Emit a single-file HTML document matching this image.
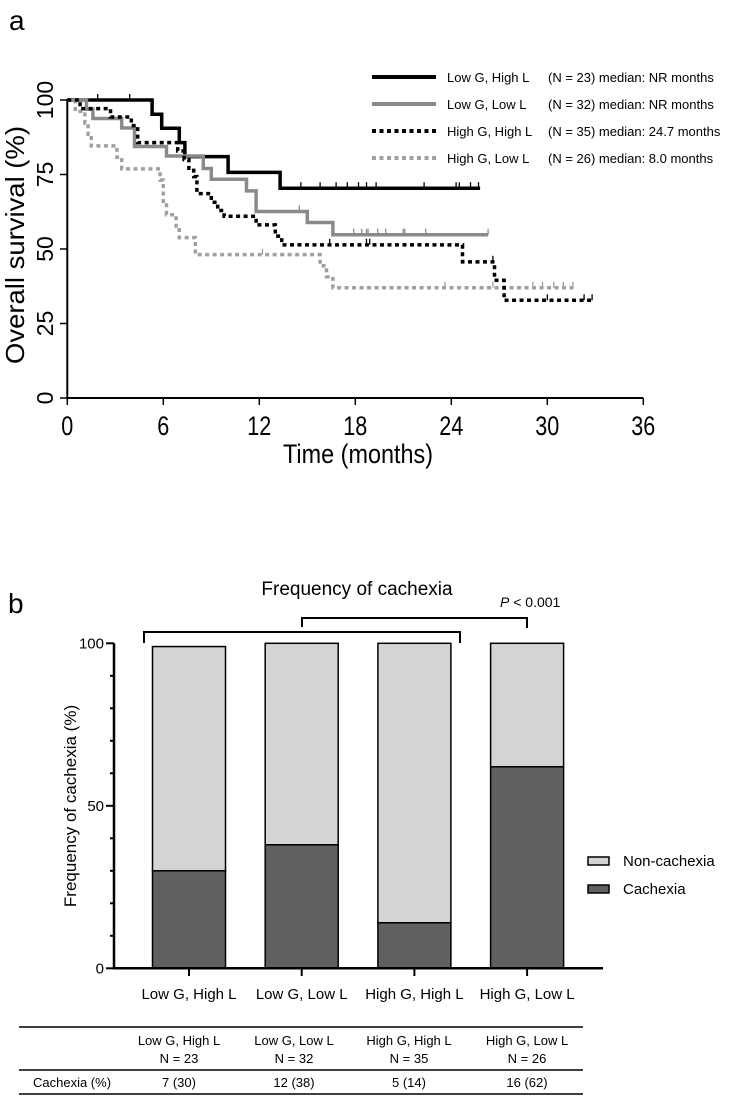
<!DOCTYPE html>
<html><head><meta charset="utf-8"><style>
body{margin:0;background:#fff;}
svg{display:block;font-family:"Liberation Sans",Arial,sans-serif;}
</style></head><body>
<svg id="fig" width="749" height="1096" viewBox="0 0 749 1096">
<text x="9" y="30" font-size="28">a</text>
<g id="km"></g>
<g id="legendA"></g>
<text x="0" y="0" font-size="28" transform="translate(8,613)">b</text>
<text x="357" y="595" font-size="19" text-anchor="middle">Frequency of cachexia</text>
<g id="bars"></g>
<g id="table"></g>
</svg>
<script>
const NS="http://www.w3.org/2000/svg";
// ---- KM data ----
const kmTicks=[0,6,12,18,24,30,36];
const kmYTicks=[0,25,50,75,100];
const bkT=[5.3,5.9,7.0,7.35,10.05,13.3];
const bkS=[95.2,90.5,85.7,81,75.7,70.4];
const bkEnd=25.8;
const bkCens=[1.9,3.9,14.6,15.8,16.8,17.5,18.2,18.7,19.3,22.3,24.3,24.5,25.2,25.7];
const gyT=[1.2,1.6,3.4,4.2,6.2,8.5,9.0,11.2,11.8,15.0,16.6];
const gyS=[96.9,93.8,90.6,84.4,81.2,77,73.4,69.5,62.6,58.9,54.8];
const gyEnd=26.3;
const gyCens=[14.5,15.0,17.9,18.4,18.7,18.8,19.4,19.9,21.0,21.1,22.4,26.3];
const bdT=[0.8,2.7,4.0,4.4,6.9,7.3,7.6,7.9,8.1,9.0,9.4,9.8,11.8,13.0,13.4,24.7,26.7,27.3];
const bdS=[97.1,94.3,91.4,85.7,82.9,80,77.1,74.3,68.6,65.7,62.9,61.0,58.1,54.3,51.4,45.7,39.5,32.8];
const bdEnd=32.8;
const bdCens=[16.4,18.7,18.9,26.6,30.0,32.3,32.8];
const gdT=[0.5,1.1,1.3,1.5,3.1,3.4,5.8,6.0,6.2,6.8,7.0,8.0,15.8,16.2,16.6];
const gdS=[96.2,92.3,88.5,84.6,80.8,76.9,73.1,65.4,61.5,57.7,53.8,48.1,44.4,40.7,37.0];
const gdEnd=31.7;
const gdCens=[12.2,23.6,26.6,29.1,29.7,30.4,31.0,31.6];
const legendLabels=["Low  G, High L","Low  G, Low L","High G, High L","High G, Low L"];
const legendStats=["(N = 23) median: NR months","(N = 32) median: NR months","(N = 35) median: 24.7 months","(N = 26) median: 8.0 months"];
// ---- bar data ----
const barCats=["Low G, High L","Low G, Low L","High G, High L","High G, Low L"];
const cachexia=[30,38,14,62];
const totals=[99,100,100,100];
const barYTicks=[0,50,100];
// ---- table data ----
const tblHead=["Low G, High L","Low G, Low L","High G, High L","High G, Low L"];
const tblN=["N = 23","N = 32","N = 35","N = 26"];
const tblVals=["7 (30)","12 (38)","5 (14)","16 (62)"];

function mk(tag,attrs,parent){const e=document.createElementNS(NS,tag);for(const k in attrs)e.setAttribute(k,attrs[k]);parent.appendChild(e);return e;}
const kx=t=>67.3+t*16.0;
const ky=s=>398-s*2.98;
const km=document.getElementById('km');
let a=mk('line',{x1:67.3,y1:398,x2:kx(36),y2:398,stroke:'#000','stroke-width':2},km);

a=mk('line',{x1:67.3,y1:ky(100)-1,x2:67.3,y2:398,stroke:'#000','stroke-width':2},km);

kmTicks.forEach(t=>{
  const l=mk('line',{x1:kx(t),y1:398,x2:kx(t),y2:405,stroke:'#000','stroke-width':1.5},km);
  
  const tx=mk('text',{x:kx(t),y:435,'font-size':27,'text-anchor':'middle',transform:`translate(${kx(t)},0) scale(0.8,1) translate(${-kx(t)},0)`},km);
  tx.textContent=t;
});
kmYTicks.forEach(v=>{
  const l=mk('line',{x1:60,y1:ky(v),x2:67.3,y2:ky(v),stroke:'#000','stroke-width':1.5},km);
  
  const tx=mk('text',{x:0,y:0,'font-size':23,'text-anchor':'middle',transform:`translate(53,${ky(v)}) rotate(-90)`},km);
  tx.textContent=v;
});
let tt=mk('text',{x:358,y:463,'font-size':27,'text-anchor':'middle',textLength:150,lengthAdjust:'spacingAndGlyphs'},km);
tt.textContent='Time (months)';
tt=mk('text',{x:0,y:0,'font-size':26,'text-anchor':'middle',transform:'translate(24,245) rotate(-90)',textLength:238,lengthAdjust:'spacingAndGlyphs'},km);
tt.textContent='Overall survival (%)';

function stepPath(T,S,end){let d=`M${kx(0)},${ky(100)}`;for(let i=0;i<T.length;i++){d+=`H${kx(T[i])}V${ky(S[i])}`;}d+=`H${kx(end)}`;return d;}
function survAt(T,S,t){let s=100;for(let i=0;i<T.length;i++){if(T[i]<=t)s=S[i];}return s;}
const series=[
 {T:bkT,S:bkS,end:bkEnd,c:bkCens,col:'#000',dash:null,name:'curve-low-g-high-l'},
 {T:gyT,S:gyS,end:gyEnd,c:gyCens,col:'#8a8a8a',dash:null,name:'curve-low-g-low-l'},
 {T:gdT,S:gdS,end:gdEnd,c:gdCens,col:'#a0a0a0',dash:'4 3.5',name:'curve-high-g-low-l'},
 {T:bdT,S:bdS,end:bdEnd,c:bdCens,col:'#000',dash:'4 3.5',name:'curve-high-g-high-l'}
];
series.forEach(sr=>{
  const at={d:stepPath(sr.T,sr.S,sr.end),fill:'none',stroke:sr.col,'stroke-width':3.5};
  if(sr.dash)at['stroke-dasharray']=sr.dash;
  const p=mk('path',at,km);
  
  sr.c.forEach(t=>{const y=ky(survAt(sr.T,sr.S,t));
    const l=mk('line',{x1:kx(t),y1:y-6,x2:kx(t),y2:y,stroke:sr.col,'stroke-width':1.3},km);
    });
});
const lg=document.getElementById('legendA');
const lgStyle=[['#000',null],['#8a8a8a',null],['#000','4 3.5'],['#a0a0a0','4 3.5']];
legendLabels.forEach((lab,i)=>{
  const y=77+i*27;
  const at={x1:372,y1:y,x2:436,y2:y,stroke:lgStyle[i][0],'stroke-width':4};
  if(lgStyle[i][1])at['stroke-dasharray']=lgStyle[i][1];
  const l=mk('line',at,lg);
  const t1=mk('text',{x:447,y:y+5,'font-size':13},lg);t1.textContent=lab;
  
  const t2=mk('text',{x:548,y:y+5,'font-size':13},lg);t2.textContent=legendStats[i];
  
});
// ---- bars ----
const bg=document.getElementById('bars');
const by=v=>968.3-v*3.25;
const bx=i=>189+i*112.7;
const bw=73;
barCats.forEach((c,i)=>{
  let r=mk('rect',{x:bx(i)-bw/2,y:by(totals[i]),width:bw,height:by(cachexia[i])-by(totals[i]),fill:'#d4d4d4',stroke:'#000','stroke-width':1.5},bg);
  
  r=mk('rect',{x:bx(i)-bw/2,y:by(cachexia[i]),width:bw,height:by(0)-by(cachexia[i]),fill:'#606060',stroke:'#000','stroke-width':1.5},bg);
  
  const tk=mk('line',{x1:bx(i),y1:968,x2:bx(i),y2:976,stroke:'#000','stroke-width':2},bg);
  
  const t=mk('text',{x:bx(i),y:999,'font-size':15,'text-anchor':'middle'},bg);t.textContent=c;
  
});
a=mk('line',{x1:114,y1:by(100),x2:114,y2:969.5,stroke:'#000','stroke-width':2.5},bg);

a=mk('line',{x1:113,y1:968.3,x2:603,y2:968.3,stroke:'#000','stroke-width':2.5},bg);

for(let v=0;v<=100;v+=10){const major=barYTicks.includes(v);
  const l=mk('line',{x1:major?106:110,y1:by(v),x2:114,y2:by(v),stroke:'#000','stroke-width':2},bg);
  }
barYTicks.forEach(v=>{const t=mk('text',{x:104,y:by(v)+5,'font-size':15,'text-anchor':'end'},bg);t.textContent=v;
  });
tt=mk('text',{x:0,y:0,'font-size':17,'text-anchor':'middle',transform:'translate(76,806) rotate(-90)'},bg);
tt.textContent='Frequency of cachexia (%)';
let br=mk('path',{d:'M144,643V632H460V643',fill:'none',stroke:'#000','stroke-width':2},bg);

br=mk('path',{d:'M302,627V618H527V628',fill:'none',stroke:'#000','stroke-width':2},bg);

tt=mk('text',{x:500,y:607,'font-size':14},bg);
tt.innerHTML='<tspan font-style="italic">P</tspan> &lt; 0.001';

[['#d4d4d4','Non-cachexia'],['#606060','Cachexia']].forEach((e,i)=>{
  const y=857+i*28;
  const r=mk('rect',{x:588,y:y,width:21,height:8,fill:e[0],stroke:'#000','stroke-width':1.5},bg);
  
  const t=mk('text',{x:623,y:y+9,'font-size':15},bg);t.textContent=e[1];
  
});
// ---- table ----
const tg=document.getElementById('table');
[1027,1070,1094].forEach(y=>{const l=mk('line',{x1:19,y1:y,x2:583,y2:y,stroke:'#000','stroke-width':1.5},tg);
  });
const cx=[179,294,409,527];
tblHead.forEach((h,i)=>{
  let t=mk('text',{x:cx[i],y:1045,'font-size':13,'text-anchor':'middle'},tg);t.textContent=h;
  
  t=mk('text',{x:cx[i],y:1063,'font-size':13,'text-anchor':'middle'},tg);t.textContent=tblN[i];
  
  t=mk('text',{x:cx[i],y:1087,'font-size':13,'text-anchor':'middle'},tg);t.textContent=tblVals[i];
  
});
tt=mk('text',{x:33,y:1087,'font-size':13},tg);tt.textContent='Cachexia (%)';

</script>
</body></html>
